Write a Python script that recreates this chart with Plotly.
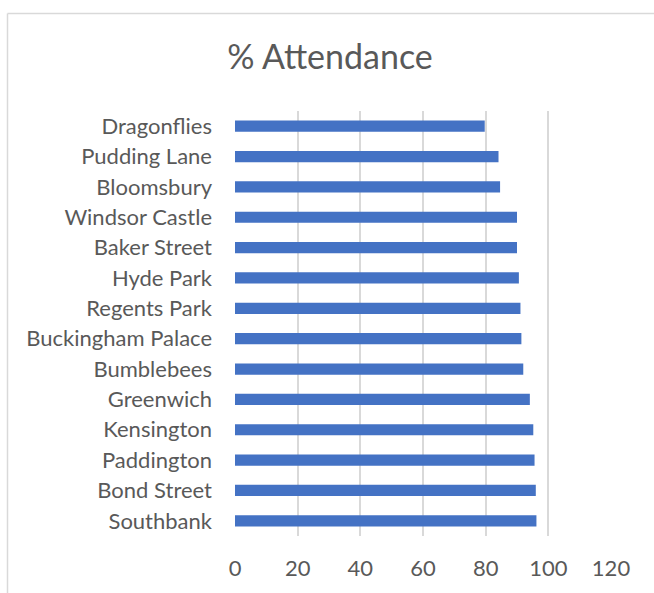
import plotly.graph_objects as go

categories = ["Southbank", "Bond Street", "Paddington", "Kensington", "Greenwich",
              "Bumblebees", "Buckingham Palace", "Regents Park", "Hyde Park",
              "Baker Street", "Windsor Castle", "Bloomsbury", "Pudding Lane", "Dragonflies"]
values = [96.2, 96.0, 95.6, 95.2, 94.1, 92.0, 91.4, 91.1, 90.6, 90.0, 90.0, 84.6, 84.1, 79.7]
x_ticks = [0, 20, 40, 60, 80, 100, 120]
title_text = "% Attendance"

L, R, T, B = 235, 43, 111, 53
W, H = 654, 593
pw, ph = W - L - R, H - T - B

def px_x(p):
    return (p - L) / pw

def px_y(p):
    return (H - B - p) / ph

fig = go.Figure(go.Bar(
    y=categories, x=values, orientation="h",
    marker=dict(color="#4472C4", line=dict(width=0)),
))

fig.update_layout(
    width=W, height=H,
    margin=dict(l=L, r=R, t=T, b=B),
    paper_bgcolor="white", plot_bgcolor="white",
    bargap=0.63,
    showlegend=False,
    font=dict(family="Lato", color="#595959"),
    title=dict(text=title_text, x=(330) / W, xanchor="center", y=1 - 57 / H, yanchor="middle",
               font=dict(family="Lato", size=34, color="#595959")),
    xaxis=dict(range=[0, 120], tickvals=x_ticks, showgrid=True, gridcolor="#d9d9d9",
               gridwidth=1.5, zeroline=False, showline=False,
               tickfont=dict(size=22, color="#595959"), ticklabelstandoff=17,
               fixedrange=True),
    yaxis=dict(categoryorder="array", categoryarray=categories, showgrid=False,
               zeroline=False, showline=False,
               tickfont=dict(size=22, color="#595959"), ticklabelstandoff=22,
               fixedrange=True),
    shapes=[
        dict(type="line", xref="paper", yref="paper", x0=px_x(7.5), x1=px_x(7.5),
             y0=px_y(12.5), y1=px_y(600), line=dict(color="#d9d9d9", width=1.5)),
        dict(type="line", xref="paper", yref="paper", x0=px_x(7.5), x1=px_x(700),
             y0=px_y(12.5), y1=px_y(12.5), line=dict(color="#d9d9d9", width=1.5)),
    ],
)

fig.write_html("out.html")
